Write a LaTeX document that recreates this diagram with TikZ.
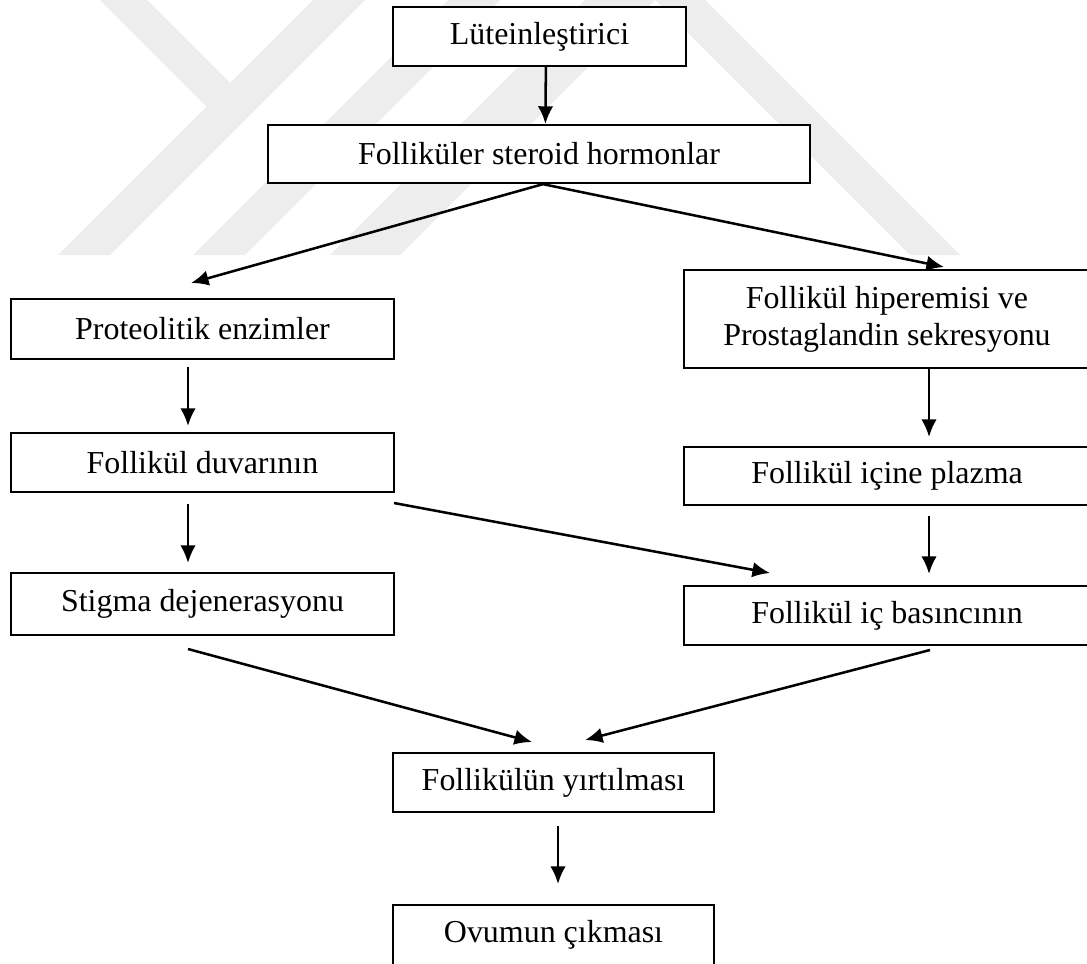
\documentclass[tikz,border=0pt]{standalone}
\usepackage{fontspec}
\setmainfont{Liberation Serif}
\usetikzlibrary{arrows.meta,calc,positioning}

\begin{document}
\begin{tikzpicture}[x=0.3757pt, y=-0.3757pt]
\tikzstyle{box}=[draw, line width=0.85pt, fill=white, inner sep=0pt, align=center, font=\fontsize{12}{13.9}\selectfont]
\tikzstyle{arr}=[line width=0.95pt, -{Latex[length=6.6pt,width=5.8pt]}]
\tikzstyle{wmark}=[fill=black!7, draw=none]

\useasboundingbox (0,0) rectangle (1087,963);

% faint logo in the background
\fill [wmark] (58,255) -- (110,255) -- (365,0) -- (313,0) -- cycle;
\fill [wmark] (100,0) -- (147,0) -- (230,83) -- (206.5,106.5) -- cycle;
\fill [wmark] (193,255) -- (245,255) -- (500,0) -- (448,0) -- cycle;
\fill [wmark] (330,255) -- (400,255) -- (655,0) -- (585,0) -- cycle;
\fill [wmark] (655,0) -- (705,0) -- (960,255) -- (910,255) -- cycle;

% left column
\node [box, minimum width=110.1pt, minimum height=22.2pt] (lut) at (539.5,36.5) {Lüteinleştirici};
\node [box, minimum width=203.6pt, minimum height=21.8pt] (ster) at (539,154) {Folliküler steroid hormonlar};
\node [box, minimum width=143.9pt, minimum height=22.5pt] (prot) at (202.5,329) {Proteolitik enzimler};
\node [box, minimum width=143.9pt, minimum height=22.2pt] (duv) at (202.5,462.5) {Follikül duvarının};
\node [box, minimum width=143.9pt, minimum height=23.3pt] (stig) at (202.5,604) {Stigma dejenerasyonu};

% right column
\node [box, minimum width=152.5pt, minimum height=36.8pt] (hip) at (887,319) {Follikül hiperemisi ve\\Prostaglandin sekresyonu};
\node [box, minimum width=152.5pt, minimum height=21.8pt] (plaz) at (887,476) {Follikül içine plazma};
\node [box, minimum width=152.5pt, minimum height=22.2pt] (bas) at (887,615.5) {Follikül iç basıncının};

% bottom
\node [box, minimum width=120.6pt, minimum height=22.2pt] (yirt) at (553.5,782.5) {Follikülün yırtılması};
\node [box, minimum width=120.6pt, minimum height=22.5pt] (ovum) at (553.5,935) {Ovumun çıkması};

% free arrow ends
\coordinate (p1) at (191,283);
\coordinate (h1) at (944,267);
\coordinate (pd1) at (188,367);
\coordinate (pd2) at (188,426);
\coordinate (ds1) at (188,504);
\coordinate (ds2) at (188,563);
\coordinate (pb1) at (929,516);
\coordinate (pb2) at (929,574);
\coordinate (hp2) at (929,437);
\coordinate (db1) at (394,503);
\coordinate (db2) at (770,573);
\coordinate (sy1) at (188,649);
\coordinate (sy2) at (532,742);
\coordinate (by1) at (930,650);
\coordinate (by2) at (585,740);
\coordinate (yo1) at (558,826);
\coordinate (yo2) at (558,884);

\draw [arr] ([xshift=2.4pt]lut.south) -- ([xshift=2.4pt]ster.north);
\draw [arr] ([xshift=1.5pt]ster.south) -- (p1);
\draw [arr] ([xshift=1.5pt]ster.south) -- (h1);
\draw [arr] (pd1) -- (pd2);
\draw [arr] (ds1) -- (ds2);
\draw [arr] (hip.south -| hp2) -- (hp2);
\draw [arr] (pb1) -- (pb2);
\draw [arr] (db1) -- (db2);
\draw [arr] (sy1) -- (sy2);
\draw [arr] (by1) -- (by2);
\draw [arr] (yo1) -- (yo2);

\end{tikzpicture}
\end{document}
